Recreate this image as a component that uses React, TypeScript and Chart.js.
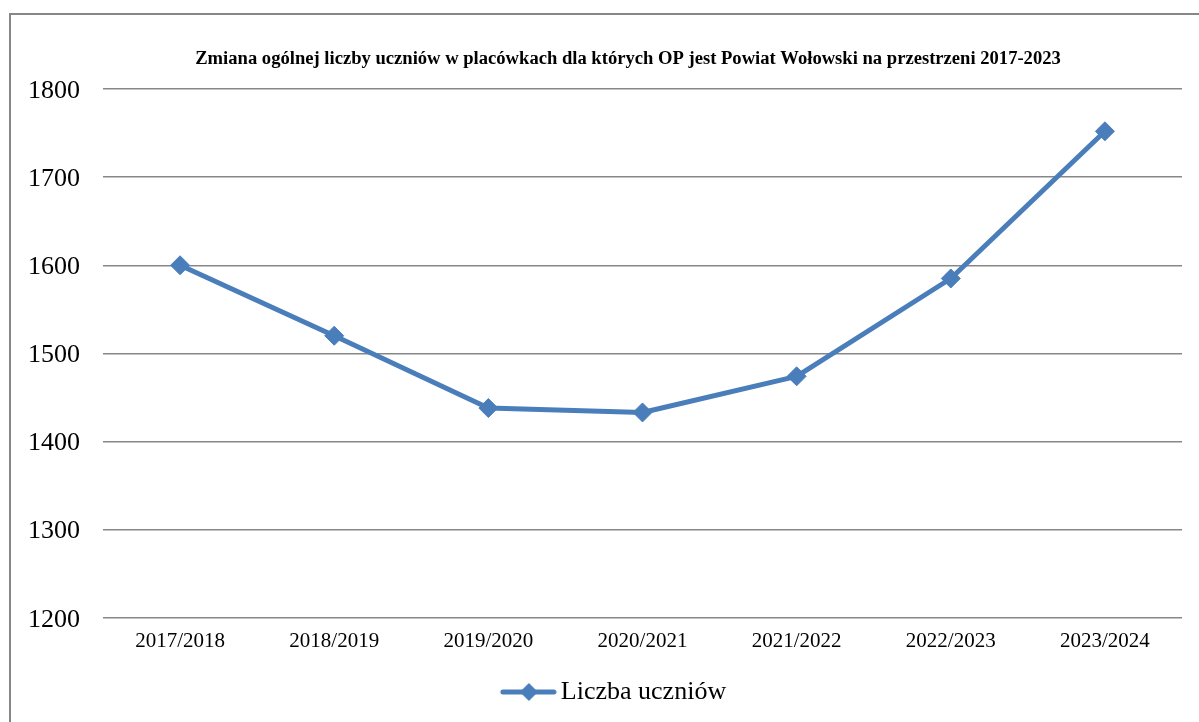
import React, { useEffect, useRef } from "react";
import { Chart, registerables } from "chart.js";

Chart.register(...registerables);

const chartTitle =
  "Zmiana ogólnej liczby uczniów w placówkach dla których OP jest Powiat Wołowski na przestrzeni 2017-2023";
const seriesLabel = "Liczba uczniów";
const categories = [
  "2017/2018",
  "2018/2019",
  "2019/2020",
  "2020/2021",
  "2021/2022",
  "2022/2023",
  "2023/2024",
];
const studentCounts = [1600, 1520, 1438, 1433, 1474, 1585, 1752];
const yTickValues = [1200, 1300, 1400, 1500, 1600, 1700, 1800];

const LINE_COLOR = "#4A7EBB";
const GRID_COLOR = "#878787";
const FONT_FAMILY = '"Liberation Serif", "Times New Roman", serif';

function makeLegendMarker(color: string): HTMLCanvasElement {
  const c = document.createElement("canvas");
  c.width = 110;
  c.height = 24;
  const g = c.getContext("2d")!;
  g.strokeStyle = color;
  g.lineWidth = 5;
  g.lineCap = "round";
  g.beginPath();
  g.moveTo(56, 12);
  g.lineTo(107, 12);
  g.stroke();
  g.fillStyle = color;
  g.beginPath();
  g.moveTo(82, 3);
  g.lineTo(91, 12);
  g.lineTo(82, 21);
  g.lineTo(73, 12);
  g.closePath();
  g.fill();
  return c;
}

const titlePlugin = {
  id: "frameTitle",
  afterDraw(chart: any) {
    const ctx = chart.ctx;
    ctx.save();
    ctx.font = `bold 18.6px ${FONT_FAMILY}`;
    ctx.fillStyle = "#000";
    ctx.textAlign = "center";
    ctx.textBaseline = "middle";
    ctx.fillText(chartTitle, 628, 59);
    ctx.restore();
  },
};

export default function App() {
  const ref = useRef<HTMLCanvasElement | null>(null);

  useEffect(() => {
    if (!ref.current) return;
    const marker = makeLegendMarker(LINE_COLOR);
    const chart = new Chart(ref.current, {
      type: "line",
      data: {
        labels: categories,
        datasets: [
          {
            label: seriesLabel,
            data: studentCounts,
            borderColor: LINE_COLOR,
            backgroundColor: LINE_COLOR,
            borderWidth: 5,
            borderJoinStyle: "round",
            tension: 0,
            pointStyle: "rectRot",
            pointRadius: 9.5,
            pointHoverRadius: 9.5,
            pointBackgroundColor: LINE_COLOR,
            pointBorderColor: LINE_COLOR,
            pointBorderWidth: 1,
          },
        ],
      },
      options: {
        animation: false,
        responsive: false,
        maintainAspectRatio: false,
        layout: { padding: { left: 0, right: 17, top: 89, bottom: 7 } },
        plugins: {
          title: { display: false },
          tooltip: { enabled: false },
          legend: {
            display: true,
            position: "bottom",
            align: "center",
            labels: {
              usePointStyle: true,
              pointStyle: marker as any,
              pointStyleWidth: 92,
              padding: 14,
              color: "#000",
              font: { family: FONT_FAMILY, size: 26 },
            },
          },
        },
        scales: {
          x: {
            type: "category",
            offset: true,
            grid: { display: false, drawTicks: false },
            border: { display: false },
            ticks: {
              color: "#000",
              padding: 11,
              maxRotation: 0,
              font: { family: FONT_FAMILY, size: 21 },
            },
          },
          y: {
            min: yTickValues[0],
            max: yTickValues[yTickValues.length - 1],
            afterFit: (scale: any) => {
              scale.width = 103;
            },
            afterBuildTicks: (scale: any) => {
              scale.ticks = yTickValues.map((v) => ({ value: v }));
            },
            grid: { color: GRID_COLOR, lineWidth: 1.5, drawTicks: false },
            border: { display: false },
            ticks: {
              color: "#000",
              padding: 23,
              labelOffset: 2,
              font: { family: FONT_FAMILY, size: 26 },
              callback: (value: any) => String(value),
            },
          },
        },
      },
      plugins: [titlePlugin],
    });
    return () => chart.destroy();
  }, []);

  return (
    <div
      style={{
        position: "fixed",
        inset: 0,
        overflow: "hidden",
        background: "#fff",
      }}
    >
      <div
        style={{
          position: "absolute",
          left: 9,
          top: 13,
          width: 1400,
          height: 900,
          border: `2px solid ${GRID_COLOR}`,
          boxSizing: "border-box",
        }}
      />
      <canvas
        ref={ref}
        width={1199}
        height={722}
        style={{ position: "absolute", left: 0, top: 0, display: "block" }}
      />
    </div>
  );
}
